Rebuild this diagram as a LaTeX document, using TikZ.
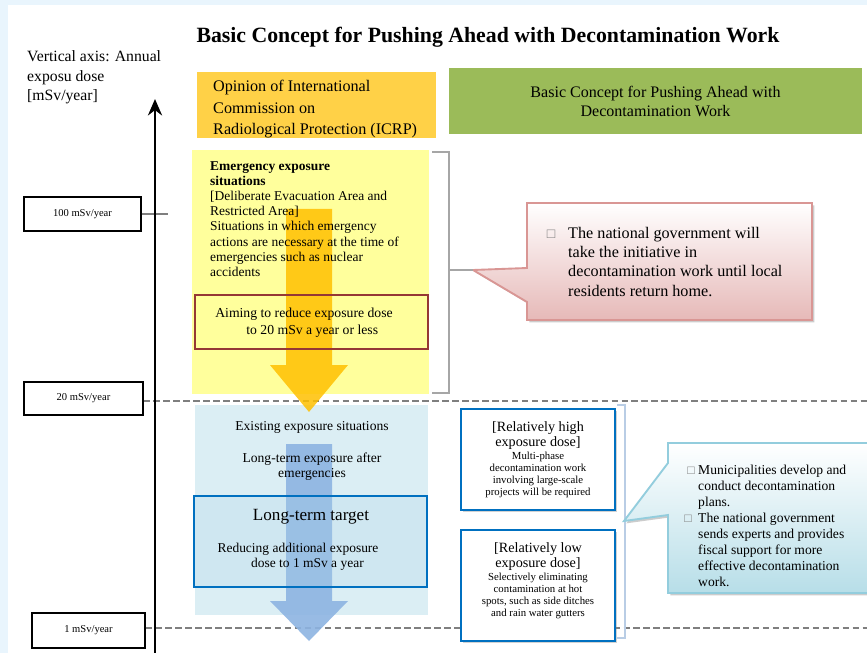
\documentclass[tikz,border=0pt]{standalone}
\usepackage{fontspec}
\setmainfont{Liberation Serif}
\usetikzlibrary{arrows.meta,shadows}
\definecolor{pagebg}{HTML}{E9F5FD}
\definecolor{icrpgold}{HTML}{FFD147}
\definecolor{concgreen}{HTML}{9BBB59}
\definecolor{emyellow}{HTML}{FFFF9C}
\definecolor{aimred}{HTML}{953735}
\definecolor{exblue}{HTML}{DBEEF4}
\definecolor{tgtblue}{HTML}{0070C0}
\definecolor{arrorange}{HTML}{FFC000}
\definecolor{arrblue}{HTML}{8DB4E2}
\definecolor{calpink}{HTML}{E6B9B8}
\definecolor{calpinkline}{HTML}{D99694}
\definecolor{calcyan}{HTML}{B7DEE8}
\definecolor{calcyanline}{HTML}{93CDDD}
\definecolor{dashgray}{HTML}{7F7F7F}
\definecolor{brackgray}{HTML}{A6A6A6}
\definecolor{brackblue}{HTML}{B9CDE5}
\newcommand{\pxu}{0.03cm}

\begin{document}
\begin{tikzpicture}[x=0.03cm,y=-0.03cm,
  every node/.style={inner sep=0pt},
  tickbox/.style={draw=black, line width=0.9pt, fill=white, font=\fontsize{9}{10}\selectfont},
  levelline/.style={dashgray, line width=2pt, dash pattern=on 5.5pt off 3pt},
  headbox/.style={minimum height=66*\pxu},
  smalltxt/.style={font=\fontsize{11.6}{12.6}\selectfont, align=center},
  casebox/.style={draw=tgtblue, line width=1.6pt, fill=white, minimum width=154*\pxu,
    drop shadow={opacity=0.35, shadow xshift=1.5pt, shadow yshift=-1.5pt}},
  casehead/.style={font=\fontsize{12.1}{12.8}\selectfont, align=center},
  casebody/.style={font=\fontsize{9.2}{10.2}\selectfont, align=center},
  calltxt/.style={font=\fontsize{13.8}{16.4}\selectfont, align=left},
  cyantxt/.style={font=\fontsize{11.6}{13.6}\selectfont, align=left},
  bulbox/.style={text=gray}]
\useasboundingbox (0,0) rectangle (867,653);
\fill[pagebg] (0,0) rectangle (867,653);
\fill[white] (8,5) rectangle (867,653);

% title and axis label
\node[font=\bfseries\fontsize{18.6}{20}\selectfont] (title) at (488,37) {Basic Concept for Pushing Ahead with Decontamination Work};
\node[anchor=north west, align=left, font=\fontsize{13.4}{17}\selectfont] (axislab) at (27,50)
  {Vertical axis: Annual\\exposu dose\\{[mSv/year]}};

% column heads
\node[headbox, fill=icrpgold, minimum width=239*\pxu] (icrp) at (316.5,105) {};
\node[anchor=north west, align=left, font=\fontsize{13.8}{18.3}\selectfont] (icrptxt) at (213,80)
  {Opinion of International\\Commission on\\Radiological Protection (ICRP)};
\node[headbox, fill=concgreen, minimum width=413*\pxu, align=center, font=\fontsize{13.7}{16.2}\selectfont]
  (concept) at (655.5,101) {Basic Concept for Pushing Ahead with\\Decontamination Work};

% zones
\fill[emyellow] (192,150) rectangle (429,394);
\fill[exblue] (195,405) rectangle (428,615);

% levels
\node[tickbox, minimum width=117*\pxu, minimum height=34*\pxu] (t100) at (82.5,214) {100 mSv/year};
\node[tickbox, minimum width=119*\pxu, minimum height=33*\pxu] (t20) at (83.5,398.5) {20 mSv/year};
\node[tickbox, minimum width=113*\pxu, minimum height=35*\pxu] (t1) at (88.5,630.5) {1 mSv/year};
\coordinate (m100) at (168,214);
\coordinate (m20) at (867,401);
\coordinate (m1) at (867,628);
\draw[dashgray, line width=2pt] (t100.east) -- (m100);
\draw[levelline] (t20.east |- m20) -- (m20);
\draw[levelline] (t1.east |- m1) -- (m1);

% axis
\coordinate (axbot) at (155,653);
\coordinate (axtop) at (155,99);
\draw[line width=2.4pt, -{Stealth[length=14pt,width=12pt]}] (axbot) -- (axtop);

% big arrows
\fill[arrorange, opacity=0.85] (286,209) -- (332,209) -- (332,365) -- (348,365) -- (309,412)
  -- (270,365) -- (286,365) -- cycle;
\fill[arrblue, opacity=0.9] (286,444) -- (332,444) -- (332,601) -- (348,601) -- (309,641)
  -- (270,601) -- (286,601) -- cycle;

% emergency zone
\node[anchor=north west, align=left, font=\fontsize{11.5}{13}\selectfont] (emtxt) at (210,161)
  {\textbf{Emergency exposure}\\\textbf{situations}\\{[Deliberate Evacuation Area and}\\Restricted Area]\\
   Situations in which emergency\\actions are necessary at the time of\\emergencies such as nuclear\\accidents};
\node[draw=aimred, line width=1.3pt, minimum width=233*\pxu, minimum height=54*\pxu] (aimbox) at (311.5,322) {};
\node[smalltxt, font=\fontsize{11.7}{14.5}\selectfont] (aimtxt) at (304,323)
  {Aiming to reduce exposure dose\\\hspace*{1.2em}to 20 mSv a year or less};

% existing zone
\node[smalltxt] (extxt) at (312,427) {Existing exposure situations};
\node[smalltxt] (longtxt) at (312,467) {Long-term exposure after\\emergencies};
\node[draw=tgtblue, line width=1.3pt, fill=exblue!80!tgtblue, fill opacity=0.25, text opacity=1,
  minimum width=233*\pxu, minimum height=91*\pxu] (tgtbox) at (310.5,541.5) {};
\node[font=\fontsize{14.6}{15}\selectfont] (tgthead) at (311,517) {Long-term target};
\node[smalltxt, font=\fontsize{11.5}{13}\selectfont] (tgttxt) at (298,557)
  {Reducing additional exposure\\\hspace*{1.4em}dose to 1 mSv a year};

% left bracket and red callout
\draw[brackgray, line width=1.5pt] (432,152) -- (449,152) -- (449,393) -- (432,393);
\coordinate (redtip) at (473,270);
\path[drop shadow={opacity=0.4, shadow xshift=2pt, shadow yshift=-2pt}, top color=white,
  bottom color=calpink, draw=calpinkline, line width=1.6pt]
  (527,203) -- (812,203) -- (812,320) -- (527,320) -- (527,302) -- (redtip) -- (527,268) -- cycle;
\draw[brackgray, line width=1.5pt] (449,270) -- (redtip);
\node[bulbox, font=\fontsize{12}{12}\selectfont] (redbul) at (551,234) {□};
\node[calltxt, anchor=north west] (redtxt) at (568,227)
  {The national government will\\take the initiative in\\decontamination work until local\\residents return home.};

% right cases
\node[casebox, minimum height=101*\pxu] (hibox) at (538,459.5) {};
\node[casehead] (hihead) at (538,436) {[Relatively high\\exposure dose]};
\node[casebody] (hibody) at (538,475) {Multi-phase\\decontamination work\\involving large-scale\\projects will be required};
\node[casebox, minimum height=111*\pxu] (lobox) at (538,585.5) {};
\node[casehead] (lohead) at (538,557) {[Relatively low\\exposure dose]};
\node[casebody] (lobody) at (538,596) {Selectively eliminating\\contamination at hot\\spots, such as side ditches\\and rain water gutters};

% right bracket and cyan callout
\draw[brackblue, line width=1.5pt] (617,405) -- (625,405) -- (625,638) -- (617,638);
\coordinate (cyantip) at (624,521);
\path[drop shadow={opacity=0.4, shadow xshift=2pt, shadow yshift=-2pt}, top color=white,
  bottom color=calcyan, draw=calcyanline, line width=1.6pt]
  (668,443) -- (868,443) -- (868,593) -- (668,593) -- (668,515) -- (cyantip) -- (668,463) -- cycle;
\node[bulbox, font=\fontsize{10.5}{11}\selectfont] (cybul1) at (691,471) {□};
\node[bulbox, font=\fontsize{10.5}{11}\selectfont] (cybul2) at (688,519) {□};
\node[cyantxt, anchor=north west] (cytxt) at (698,465)
  {Municipalities develop and\\conduct decontamination\\plans.\\The national government\\sends experts and provides\\fiscal support for more\\effective decontamination\\work.};
\end{tikzpicture}
\end{document}
